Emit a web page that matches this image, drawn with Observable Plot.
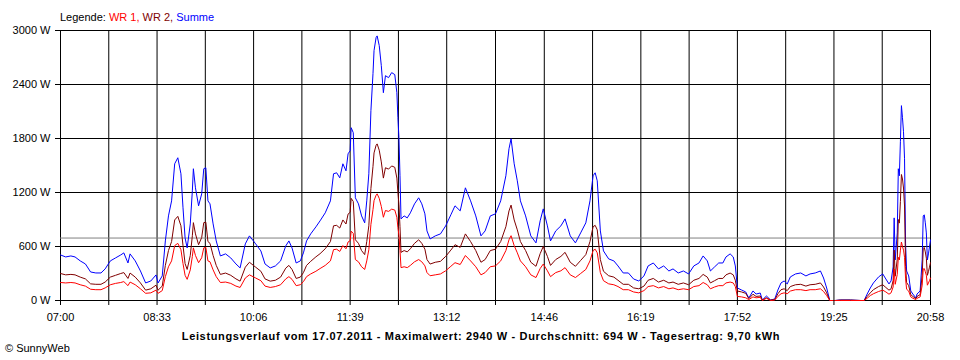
<!DOCTYPE html>
<html><head><meta charset="utf-8">
<script src="https://cdn.jsdelivr.net/npm/d3@7"></script>
<script src="https://cdn.jsdelivr.net/npm/@observablehq/plot@0.6"></script>
<style>
body{margin:0;background:#fff;font-family:"Liberation Sans",Arial,sans-serif;}
#wrap{position:relative;width:960px;height:360px;overflow:hidden;background:#fff}
#chart{position:absolute;left:0;top:0}
.txt{position:absolute;font-size:11px;line-height:13px;white-space:nowrap;color:#000}
#legend{left:60px;top:11px}
#title{left:0;width:962px;top:330px;text-align:center;font-weight:bold;letter-spacing:0.65px}
#credit{left:5px;top:342px}
</style></head>
<body>
<div id="wrap">
  <div id="chart"></div>
  <div id="legend" class="txt"></div>
  <div id="title" class="txt"></div>
  <div id="credit" class="txt"></div>
</div>
<script>
// Minutes after 07:00
const minutes = [0,5,10,14,19,24,29,34,39,43,
 48,53,58,61,65,67,72,77,82,87,
 92,94,98,101,104,107,110,113,116,118,
 120,122,125,127,128,130,133,136,138,140,
 142,144,147,150,154,159,164,169,173,178,
 182,188,193,197,202,207,212,217,220,223,
 227,231,234,237,241,246,250,255,260,263,
 266,269,272,275,277,279,280,282,284,287,
 290,293,295,297,299,301,302,304,305,307,
 309,311,313,316,319,322,324,325,326,327,
 328,331,334,337,341,345,348,351,353,356,
 361,366,371,376,380,385,390,395,400,405,
 409,414,419,424,429,432,434,437,440,443,
 448,453,458,462,465,469,472,477,482,486,
 491,496,501,506,510,513,515,517,520,523,
 528,533,537,542,547,552,557,562,566,571,
 576,581,586,590,595,600,605,610,615,619,
 623,626,630,634,638,641,645,648,650,652,
 656,660,663,667,670,674,676,680,684,688,
 691,694,697,700,703,708,713,718,722,727,
 732,735,738,741,746,751,761,771,774,777,
 780,783,788,792,795,798,800,802,803,804,
 806,807,808,809,810,811,812,813,814,815,
 817,819,821,824,825,828,830,831,832,833,
 834,835,836,837,838];

const summe = [506,484,495,484,440,406,317,306,306,351,
 440,473,506,529,417,518,440,328,195,217,
 284,195,273,662,940,1107,1519,1586,1408,1030,
 696,584,851,1219,1464,1252,1052,1185,1464,1475,
 1107,1074,851,662,495,518,473,406,362,629,
 718,629,551,406,362,384,440,607,662,584,
 417,440,529,662,740,818,885,974,1107,1408,
 1419,1363,1519,1441,1630,1664,1920,1864,1141,1074,
 940,863,1107,1408,2109,2521,2777,2922,2940,2833,
 2610,2309,2498,2476,2532,2510,2309,2031,1809,1386,
 907,940,918,974,1074,1141,1074,963,773,684,
 718,740,829,952,1052,996,1252,1107,940,718,
 773,940,963,1107,1386,1686,1797,1519,1330,1107,
 940,718,640,885,1018,829,662,773,829,907,
 718,640,751,863,1107,1386,1419,1330,773,551,
 462,440,384,306,306,239,217,273,384,417,
 351,384,328,351,306,328,295,384,417,495,
 440,328,373,417,417,484,518,484,384,139,
 117,95,28,106,72,83,6,50,6,17,
 117,195,217,184,262,295,306,273,295,306,
 328,250,139,0,0,6,6,0,0,72,
 139,195,262,295,239,184,217,373,918,451,
 751,1464,1386,1764,2165,2031,1875,1575,629,328,
 273,106,72,28,72,106,451,940,952,863,
 751,451,518,595,673];

const wr2 = [300,285,290,285,260,240,185,180,180,205,
 260,280,300,310,245,305,260,195,115,130,
 170,115,160,390,555,655,895,935,830,610,
 410,345,500,720,865,740,620,700,865,870,
 655,635,500,390,290,305,280,240,215,370,
 425,370,325,240,215,225,260,360,390,345,
 245,260,310,390,435,485,520,575,655,830,
 835,805,895,850,960,980,1135,1100,675,635,
 555,510,655,830,1245,1490,1640,1725,1740,1670,
 1540,1360,1475,1460,1495,1480,1360,1200,1065,820,
 535,555,540,575,635,675,635,570,455,405,
 425,435,490,560,620,590,740,655,555,425,
 455,555,570,655,820,995,1060,895,785,655,
 555,425,380,520,600,490,390,455,490,535,
 425,380,445,510,655,820,835,785,455,325,
 275,260,225,180,180,140,130,160,225,245,
 205,225,195,205,180,195,175,225,245,290,
 260,195,220,245,245,285,305,285,225,105,
 95,80,20,70,45,50,5,30,5,10,
 75,120,130,110,155,175,180,160,175,180,
 195,150,85,0,0,5,5,0,0,45,
 85,120,155,175,145,115,130,220,560,270,
 460,900,860,1100,1400,1350,1250,1050,380,200,
 165,65,45,20,45,65,280,580,590,540,
 470,280,320,370,420];

const wr1 = [200,195,200,195,175,160,125,120,120,140,
 175,190,200,210,165,205,175,130,80,85,
 115,80,110,265,375,440,610,635,565,410,
 280,235,340,490,585,500,420,475,585,590,
 440,430,340,265,200,205,190,160,145,250,
 285,250,220,160,145,155,175,240,265,235,
 165,175,210,265,295,325,355,390,440,565,
 570,545,610,575,650,665,770,745,455,430,
 375,345,440,565,845,1010,1110,1170,1185,1135,
 1045,925,1000,990,1015,1005,925,810,725,555,
 365,375,365,390,430,455,430,385,310,275,
 285,295,330,380,420,400,500,440,375,285,
 310,375,385,440,555,675,720,610,530,440,
 375,285,255,355,405,330,265,310,330,365,
 285,255,300,345,440,555,570,530,310,220,
 185,175,155,120,120,95,85,110,155,165,
 140,155,130,140,120,130,120,155,165,200,
 175,130,150,165,165,195,205,195,155,45,
 40,30,10,40,30,35,0,25,0,5,
 45,75,85,75,105,120,120,110,120,120,
 130,100,55,0,0,0,0,0,0,25,
 55,75,100,115,95,70,85,150,350,180,
 290,480,450,560,650,600,560,480,240,125,
 105,40,25,10,25,40,170,350,355,320,
 280,170,195,220,250];

const timeLabels = ["07:00","08:33","10:06","11:39","13:12","14:46","16:19","17:52","19:25","20:58"];
const yTicks = [0,600,1200,1800,2400,3000];
const average = 694;
const seriesNames = ["WR 1", "WR 2", "Summe"];
const seriesColors = ["#ff0000", "#800000", "#0000ff"];
const titleText = "Leistungsverlauf vom 17.07.2011 - Maximalwert: 2940 W - Durchschnitt: 694 W - Tagesertrag: 9,70 kWh";
const creditText = "\u00A9 SunnyWeb";

const toMin = s => { const [h, m] = s.split(":").map(Number); return h * 60 + m - 420; };
const labelTicks = timeLabels.map(toMin);
const allTicks = [];
labelTicks.forEach((t, i) => {
  allTicks.push(t);
  if (i < labelTicks.length - 1) allTicks.push((t + labelTicks[i + 1]) / 2);
});
const labelMap = new Map(labelTicks.map((t, i) => [t, timeLabels[i]]));

const rows = minutes.map((m, i) => ({m, summe: summe[i], wr1: wr1[i], wr2: wr2[i]}));

const chart = Plot.plot({
  width: 960, height: 330,
  marginLeft: 60, marginRight: 30, marginTop: 30, marginBottom: 30,
  style: {fontFamily: "'Liberation Sans', Arial, sans-serif", fontSize: "11px", color: "#000", background: "#fff"},
  x: {domain: [0, labelTicks[labelTicks.length - 1]]},
  y: {domain: [0, 3000]},
  marks: [
    Plot.ruleY(yTicks, {stroke: "#000", strokeWidth: 1}),
    Plot.ruleX(allTicks, {stroke: "#000", strokeWidth: 1}),
    Plot.ruleY([average], {stroke: "#808080", strokeWidth: 1}),
    Plot.line(rows, {x: "m", y: "summe", stroke: seriesColors[2], strokeWidth: 1}),
    Plot.line(rows, {x: "m", y: "wr2", stroke: seriesColors[1], strokeWidth: 1}),
    Plot.line(rows, {x: "m", y: "wr1", stroke: seriesColors[0], strokeWidth: 1}),
    Plot.axisY({ticks: yTicks, tickFormat: d => d + " W", tickSize: 5, tickPadding: 5, stroke: "#000", label: null}),
    Plot.axisX({ticks: allTicks, tickFormat: d => labelMap.get(d) ?? "", tickSize: 5, tickPadding: 8, stroke: "#000", label: null})
  ]
});
document.getElementById("chart").appendChild(chart);

const legend = document.getElementById("legend");
legend.appendChild(document.createTextNode("Legende: "));
seriesNames.forEach((n, i) => {
  const s = document.createElement("span");
  s.style.color = seriesColors[i];
  s.textContent = n + (i < seriesNames.length - 1 ? ", " : "");
  legend.appendChild(s);
});
document.getElementById("title").textContent = titleText;
document.getElementById("credit").textContent = creditText;
</script>
</body></html>
